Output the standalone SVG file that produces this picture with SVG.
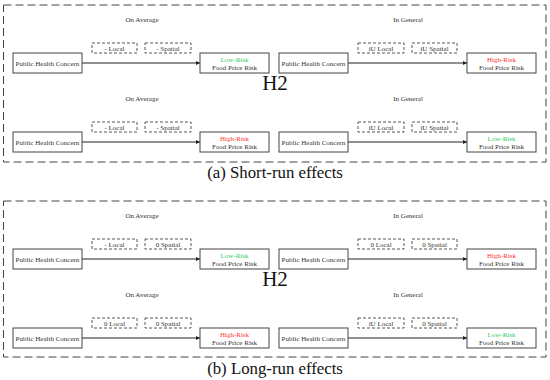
<svg xmlns="http://www.w3.org/2000/svg" width="550" height="380" viewBox="0 0 550 380">
<style>
.bg{fill:#fff}
.frame{fill:none;stroke:#444;stroke-width:1;stroke-dasharray:8,4}
.node{fill:#fff;stroke:#444;stroke-width:1}
.lab{fill:#fff;stroke:#444;stroke-width:0.9;stroke-dasharray:3,2}
.t{font-family:"Liberation Serif",serif;font-size:7px;fill:#333;text-anchor:middle}
.g{fill:#2fcc66}
.r{fill:#ff3333}
.h{font-family:"Liberation Serif",serif;font-size:21px;fill:#111;text-anchor:middle}
.cap{font-family:"Liberation Serif",serif;font-size:16.8px;fill:#111;text-anchor:middle}
.edge{stroke:#222;stroke-width:1;fill:none;marker-end:url(#ah)}
</style>
<defs>
<marker id="ah" viewBox="0 0 10 10" refX="10" refY="5" markerWidth="4.5" markerHeight="4.5" orient="auto" markerUnits="userSpaceOnUse">
<path d="M0,0 L10,5 L0,10 z" fill="#222"/>
</marker>
</defs>
<rect class="bg" x="0" y="0" width="550" height="380"/>

<!-- Panel (a) -->
<g id="panel-a">
<rect class="frame" x="3.5" y="5" width="542.5" height="157"/>
<text class="t" x="142" y="21.5">On Average</text>
<text class="t" x="408" y="21.5">In General</text>
<text class="t" x="142" y="100.5">On Average</text>
<text class="t" x="408" y="100.5">In General</text>
<text class="h" x="275" y="90">H2</text>
<text class="cap" x="275" y="178">(a) Short-run effects</text>
</g>

<g id="connectors-a">
<line class="edge" x1="82" y1="63" x2="200" y2="63"/>
<line class="edge" x1="348" y1="63" x2="467" y2="63"/>
<line class="edge" x1="82" y1="142" x2="200" y2="142"/>
<line class="edge" x1="348" y1="142" x2="467" y2="142"/>
</g>

<g id="a-r1-src"><rect class="node" x="13" y="53" width="69" height="20"/><text class="t" x="47.5" y="65.5">Public Health Concern</text></g>
<g id="a-r1-local"><rect class="lab" x="92" y="43" width="45" height="10"/><text class="t" x="114.5" y="50.5">- Local</text></g>
<g id="a-r1-spatial"><rect class="lab" x="145" y="43" width="46" height="10"/><text class="t" x="168" y="50.5">- Spatial</text></g>
<g id="a-r1-dst"><rect class="node" x="200" y="53" width="69" height="20"/><text class="t g" x="234.5" y="61.5">Low-Risk</text><text class="t" x="234.5" y="69.5">Food Price Risk</text></g>

<g id="a-r1b-src"><rect class="node" x="279" y="53" width="69" height="20"/><text class="t" x="313.5" y="65.5">Public Health Concern</text></g>
<g id="a-r1b-local"><rect class="lab" x="358" y="43" width="46" height="10"/><text class="t" x="381" y="50.5">iU Local</text></g>
<g id="a-r1b-spatial"><rect class="lab" x="412" y="43" width="45" height="10"/><text class="t" x="434.5" y="50.5">iU Spatial</text></g>
<g id="a-r1b-dst"><rect class="node" x="467" y="53" width="69" height="20"/><text class="t r" x="501.5" y="61.5">High-Risk</text><text class="t" x="501.5" y="69.5">Food Price Risk</text></g>

<g id="a-r2-src"><rect class="node" x="13" y="132" width="69" height="20"/><text class="t" x="47.5" y="144.5">Public Health Concern</text></g>
<g id="a-r2-local"><rect class="lab" x="92" y="122" width="45" height="10"/><text class="t" x="114.5" y="129.5">- Local</text></g>
<g id="a-r2-spatial"><rect class="lab" x="145" y="122" width="46" height="10"/><text class="t" x="168" y="129.5">- Spatial</text></g>
<g id="a-r2-dst"><rect class="node" x="200" y="132" width="69" height="20"/><text class="t r" x="234.5" y="140.5">High-Risk</text><text class="t" x="234.5" y="148.5">Food Price Risk</text></g>

<g id="a-r2b-src"><rect class="node" x="279" y="132" width="69" height="20"/><text class="t" x="313.5" y="144.5">Public Health Concern</text></g>
<g id="a-r2b-local"><rect class="lab" x="358" y="122" width="46" height="10"/><text class="t" x="381" y="129.5">iU Local</text></g>
<g id="a-r2b-spatial"><rect class="lab" x="412" y="122" width="45" height="10"/><text class="t" x="434.5" y="129.5">iU Spatial</text></g>
<g id="a-r2b-dst"><rect class="node" x="467" y="132" width="69" height="20"/><text class="t g" x="501.5" y="140.5">Low-Risk</text><text class="t" x="501.5" y="148.5">Food Price Risk</text></g>

<!-- Panel (b) -->
<g id="panel-b">
<rect class="frame" x="3.5" y="201" width="542.5" height="156"/>
<text class="t" x="142" y="217.5">On Average</text>
<text class="t" x="408" y="217.5">In General</text>
<text class="t" x="142" y="296.5">On Average</text>
<text class="t" x="408" y="296.5">In General</text>
<text class="h" x="275" y="286">H2</text>
<text class="cap" x="275" y="374">(b) Long-run effects</text>
</g>

<g id="connectors-b">
<line class="edge" x1="82" y1="259" x2="200" y2="259"/>
<line class="edge" x1="348" y1="259" x2="467" y2="259"/>
<line class="edge" x1="82" y1="338" x2="200" y2="338"/>
<line class="edge" x1="348" y1="338" x2="467" y2="338"/>
</g>

<g id="b-r1-src"><rect class="node" x="13" y="249" width="69" height="20"/><text class="t" x="47.5" y="261.5">Public Health Concern</text></g>
<g id="b-r1-local"><rect class="lab" x="92" y="239" width="45" height="10"/><text class="t" x="114.5" y="246.5">- Local</text></g>
<g id="b-r1-spatial"><rect class="lab" x="145" y="239" width="46" height="10"/><text class="t" x="168" y="246.5">0 Spatial</text></g>
<g id="b-r1-dst"><rect class="node" x="200" y="249" width="69" height="20"/><text class="t g" x="234.5" y="257.5">Low-Risk</text><text class="t" x="234.5" y="265.5">Food Price Risk</text></g>

<g id="b-r1b-src"><rect class="node" x="279" y="249" width="69" height="20"/><text class="t" x="313.5" y="261.5">Public Health Concern</text></g>
<g id="b-r1b-local"><rect class="lab" x="358" y="239" width="46" height="10"/><text class="t" x="381" y="246.5">0 Local</text></g>
<g id="b-r1b-spatial"><rect class="lab" x="412" y="239" width="45" height="10"/><text class="t" x="434.5" y="246.5">0 Spatial</text></g>
<g id="b-r1b-dst"><rect class="node" x="467" y="249" width="69" height="20"/><text class="t r" x="501.5" y="257.5">High-Risk</text><text class="t" x="501.5" y="265.5">Food Price Risk</text></g>

<g id="b-r2-src"><rect class="node" x="13" y="328" width="69" height="20"/><text class="t" x="47.5" y="340.5">Public Health Concern</text></g>
<g id="b-r2-local"><rect class="lab" x="92" y="318" width="45" height="10"/><text class="t" x="114.5" y="325.5">0 Local</text></g>
<g id="b-r2-spatial"><rect class="lab" x="145" y="318" width="46" height="10"/><text class="t" x="168" y="325.5">0 Spatial</text></g>
<g id="b-r2-dst"><rect class="node" x="200" y="328" width="69" height="20"/><text class="t r" x="234.5" y="336.5">High-Risk</text><text class="t" x="234.5" y="344.5">Food Price Risk</text></g>

<g id="b-r2b-src"><rect class="node" x="279" y="328" width="69" height="20"/><text class="t" x="313.5" y="340.5">Public Health Concern</text></g>
<g id="b-r2b-local"><rect class="lab" x="358" y="318" width="46" height="10"/><text class="t" x="381" y="325.5">iU Local</text></g>
<g id="b-r2b-spatial"><rect class="lab" x="412" y="318" width="45" height="10"/><text class="t" x="434.5" y="325.5">0 Spatial</text></g>
<g id="b-r2b-dst"><rect class="node" x="467" y="328" width="69" height="20"/><text class="t g" x="501.5" y="336.5">Low-Risk</text><text class="t" x="501.5" y="344.5">Food Price Risk</text></g>
</svg>
